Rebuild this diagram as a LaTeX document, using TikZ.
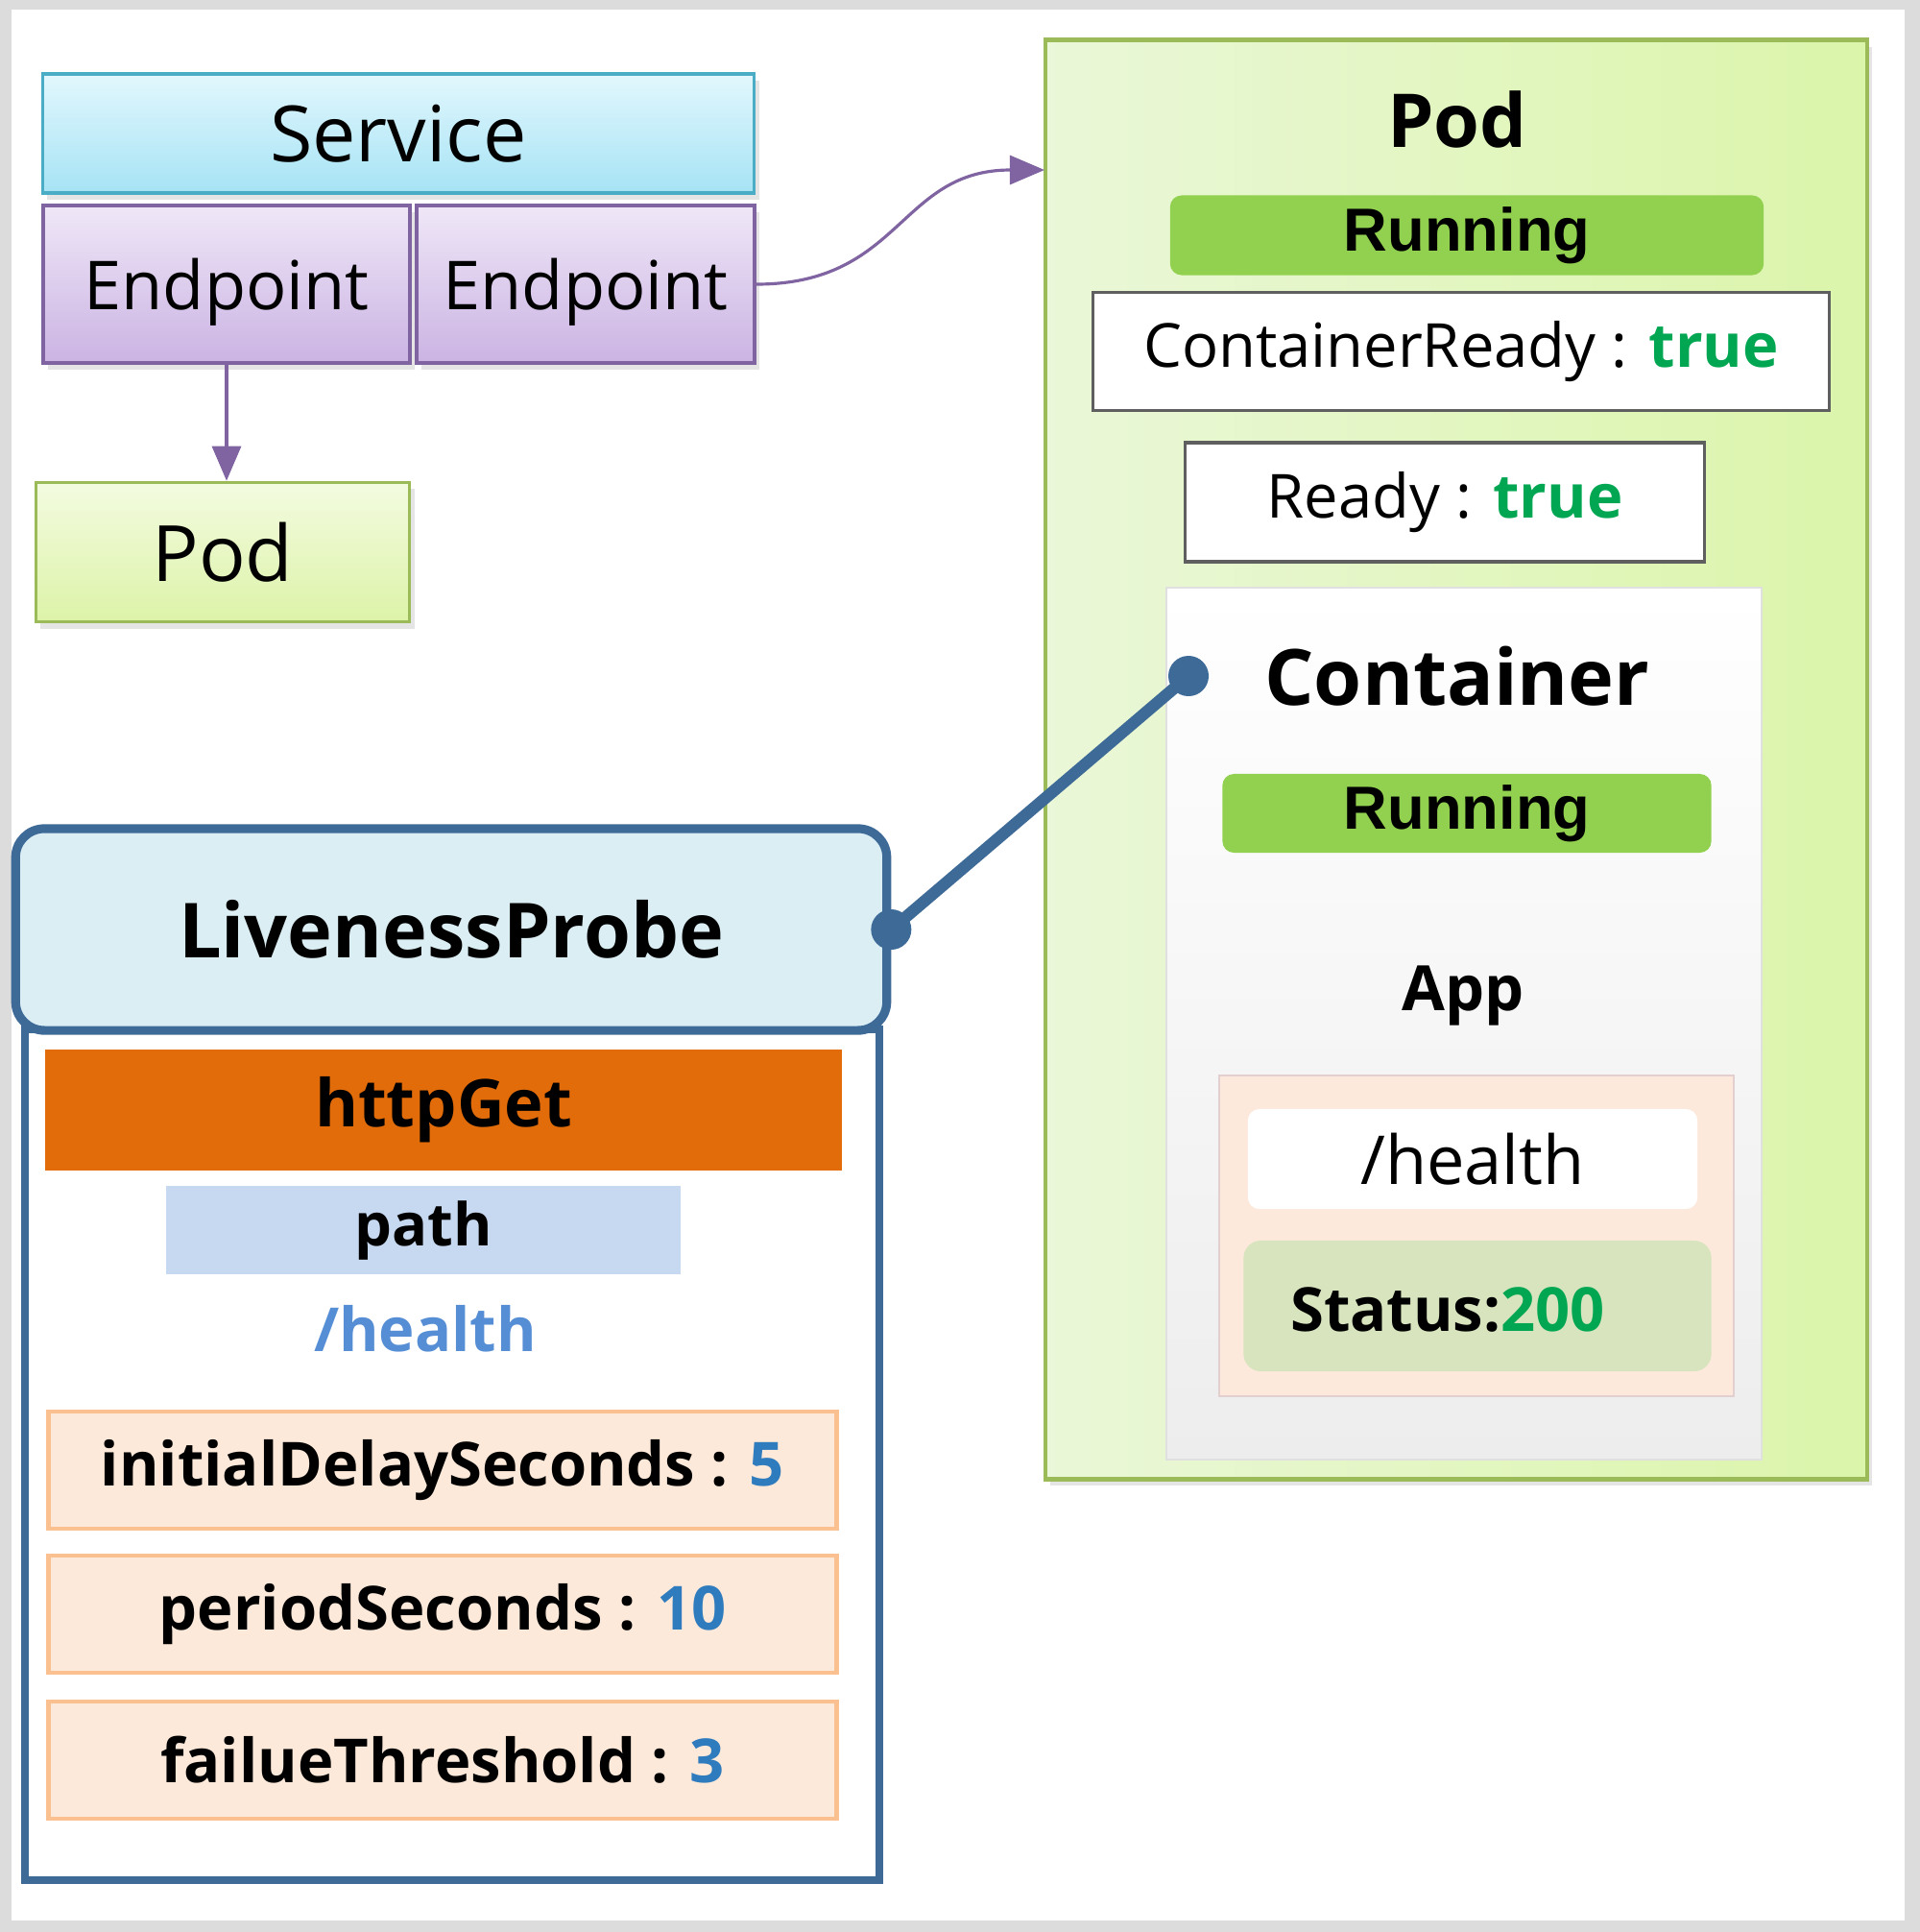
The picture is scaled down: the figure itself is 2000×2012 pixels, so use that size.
\documentclass[tikz,border=0pt]{standalone}
\usepackage{fontspec}
\setmainfont{Open Sans}
\newfontfamily\runfont{Liberation Sans}
\usetikzlibrary{positioning, shadows, arrows.meta}

\definecolor{framegray}{HTML}{DCDCDC}
\definecolor{servtop}{HTML}{E2F7FD}
\definecolor{servbot}{HTML}{A6E3F5}
\definecolor{servline}{HTML}{4BACC6}
\definecolor{eptop}{HTML}{EFE7F7}
\definecolor{epbot}{HTML}{CBB3E3}
\definecolor{epline}{HTML}{8064A2}
\definecolor{podtop}{HTML}{F3FBE0}
\definecolor{podbot}{HTML}{DDF3A8}
\definecolor{podline}{HTML}{9BBB59}
\definecolor{bigleft}{HTML}{EAF7D8}
\definecolor{bigright}{HTML}{DBF5AA}
\definecolor{rungreen}{HTML}{92D050}
\definecolor{truegreen}{HTML}{00A651}
\definecolor{boxgray}{HTML}{5F5F5F}
\definecolor{ctrbot}{HTML}{EDEDED}
\definecolor{appfill}{HTML}{FCE9DC}
\definecolor{appline}{HTML}{E3CFCF}
\definecolor{statfill}{HTML}{D7E4BD}
\definecolor{probefill}{HTML}{DAEEF4}
\definecolor{probeline}{HTML}{3E6A98}
\definecolor{httpfill}{HTML}{E36C0A}
\definecolor{pathfill}{HTML}{C6D9F1}
\definecolor{pathblue}{HTML}{558ED5}
\definecolor{propfill}{HTML}{FDE9D9}
\definecolor{propline}{HTML}{FAC090}
\definecolor{numblue}{HTML}{2E7BBE}

\newcommand{\setfs}[1]{\fontsize{#1}{#1}\selectfont}

\tikzset{
    box/.style={rectangle, inner sep=0pt, align=center},
    softshadow/.style={drop shadow={opacity=0.2, shadow xshift=0.05cm, shadow yshift=-0.07cm}},
    service/.style={box, draw=servline, line width=1pt, top color=servtop, bottom color=servbot, softshadow, font=\setfs{23}},
    endpoint/.style={box, draw=epline, line width=1pt, top color=eptop, bottom color=epbot, softshadow, text depth=0pt, font=\setfs{20}},
    smallpod/.style={box, draw=podline, line width=1pt, top color=podtop, bottom color=podbot, softshadow, font=\setfs{23}},
    running/.style={box, fill=rungreen, rounded corners=0.12cm, font=\runfont\bfseries\setfs{18}},
    cond/.style={box, draw=boxgray, fill=white, line width=0.9pt, font=\setfs{18}},
    title/.style={font=\bfseries\setfs{22}},
    prop/.style={box, draw=propline, fill=propfill, line width=1.3pt, minimum width=8.21cm, minimum height=1.22cm, font=\bfseries\setfs{18}},
    dot/.style={circle, fill=probeline, inner sep=0pt, minimum size=0.42cm},
    link/.style={-{Triangle[length=0.36cm, width=0.3cm]}, draw=epline, line width=0.9pt}
}

\begin{document}
\begin{tikzpicture}[x=0.01cm, y=-0.01cm]
    % Frame
    \fill[framegray] (0,0) rectangle (2000,2012);
    \fill[white] (12,10) rectangle (1984,2000);
    \useasboundingbox (0,0) rectangle (2000,2012);

    %% Service side
    \node[service, minimum width=7.41cm, minimum height=1.24cm] (service) at (415,139) {Service};
    \node[endpoint, minimum width=3.82cm, minimum height=1.64cm] (ep1) at (236,296) {Endpoint};
    \node[endpoint, minimum width=3.52cm, minimum height=1.64cm] (ep2) at (610,296) {Endpoint};
    \node[smallpod, minimum width=3.89cm, minimum height=1.45cm] (pod1) at (232,575) {Pod};

    %% Pod
    \node[box, draw=podline, line width=1.2pt, left color=bigleft, right color=bigright,
          softshadow, minimum width=8.55cm, minimum height=14.98cm] (pod) at (1517,791) {};
    \node[title] (podtitle) at (1518,124) {Pod};
    \node[running, minimum width=6.18cm, minimum height=0.83cm] (run1) at (1528,245) {Running};
    \node[cond, minimum width=7.67cm, minimum height=1.23cm] (cready) at (1522,366)
        {ContainerReady : {\bfseries\color{truegreen}true}};
    \node[cond, minimum width=5.41cm, minimum height=1.24cm] (ready) at (1505,523)
        {Ready : {\bfseries\color{truegreen}true}};

    % Container
    \node[box, draw=black!12, line width=0.6pt, top color=white, bottom color=ctrbot,
          minimum width=6.19cm, minimum height=9.07cm] (ctr) at (1525,1066) {};
    \node[title, font=\bfseries\setfs{23}] (ctrtitle) at (1518,704) {Container};
    \node[dot] (ctrdot) at (1238,704) {};
    \node[running, minimum width=5.09cm, minimum height=0.82cm] (run2) at (1528,847) {Running};
    \node[title, font=\bfseries\setfs{18.5}] (app) at (1524,1037) {App};
    \node[box, draw=appline, fill=appfill, line width=0.6pt, minimum width=5.36cm, minimum height=3.33cm] (appbox) at (1538,1287) {};
    \node[box, fill=white, rounded corners=0.12cm, minimum width=4.68cm, minimum height=1.04cm, font=\setfs{20}] (health) at (1534,1207) {/health};
    \node[box, fill=statfill, rounded corners=0.18cm, minimum width=4.87cm, minimum height=1.36cm] (status) at (1539,1360) {};
    \node[font=\bfseries\setfs{18}] (statustext) at (1508,1364) {Status:{\color{truegreen}200}};

    %% LivenessProbe
    \node[box, draw=probeline, fill=white, line width=2.4pt, minimum width=8.90cm, minimum height=8.85cm] (probebody) at (471,1515) {};
    \node[box, draw=probeline, fill=probefill, line width=2.6pt, rounded corners=0.3cm,
          minimum width=9.07cm, minimum height=2.10cm, font=\bfseries\setfs{22.5}] (probe) at (470,968) {LivenessProbe};
    \node[box, fill=httpfill, minimum width=8.30cm, minimum height=1.25cm, font=\bfseries\setfs{19.5}] (http) at (462,1156) {httpGet};
    \node[box, fill=pathfill, minimum width=5.36cm, minimum height=0.92cm, font=\bfseries\setfs{17.5}] (path) at (441,1281) {path};
    \node[font=\bfseries\setfs{18}, text=pathblue] (hpath) at (443,1384) {/health};
    \node[prop] (delay) at (461,1531) {initialDelaySeconds : {\color{numblue}5}};
    \node[prop] (period) at (461,1681) {periodSeconds : {\color{numblue}10}};
    \node[prop] (fail) at (461,1833) {failueThreshold : {\color{numblue}3}};

    % Connectors
    \coordinate (podin) at (1088,177);
    \draw[link] (ep1.south) -- (ep1.south |- pod1.north);
    \draw[link] (ep2.east) to[out=0, in=180, looseness=1.2] (podin);
    \draw[draw=probeline, line width=3.5pt] (probe.east) -- (ctrdot.center);
    \node[dot] (probedot) at (probe.east) {};
\end{tikzpicture}
\end{document}
